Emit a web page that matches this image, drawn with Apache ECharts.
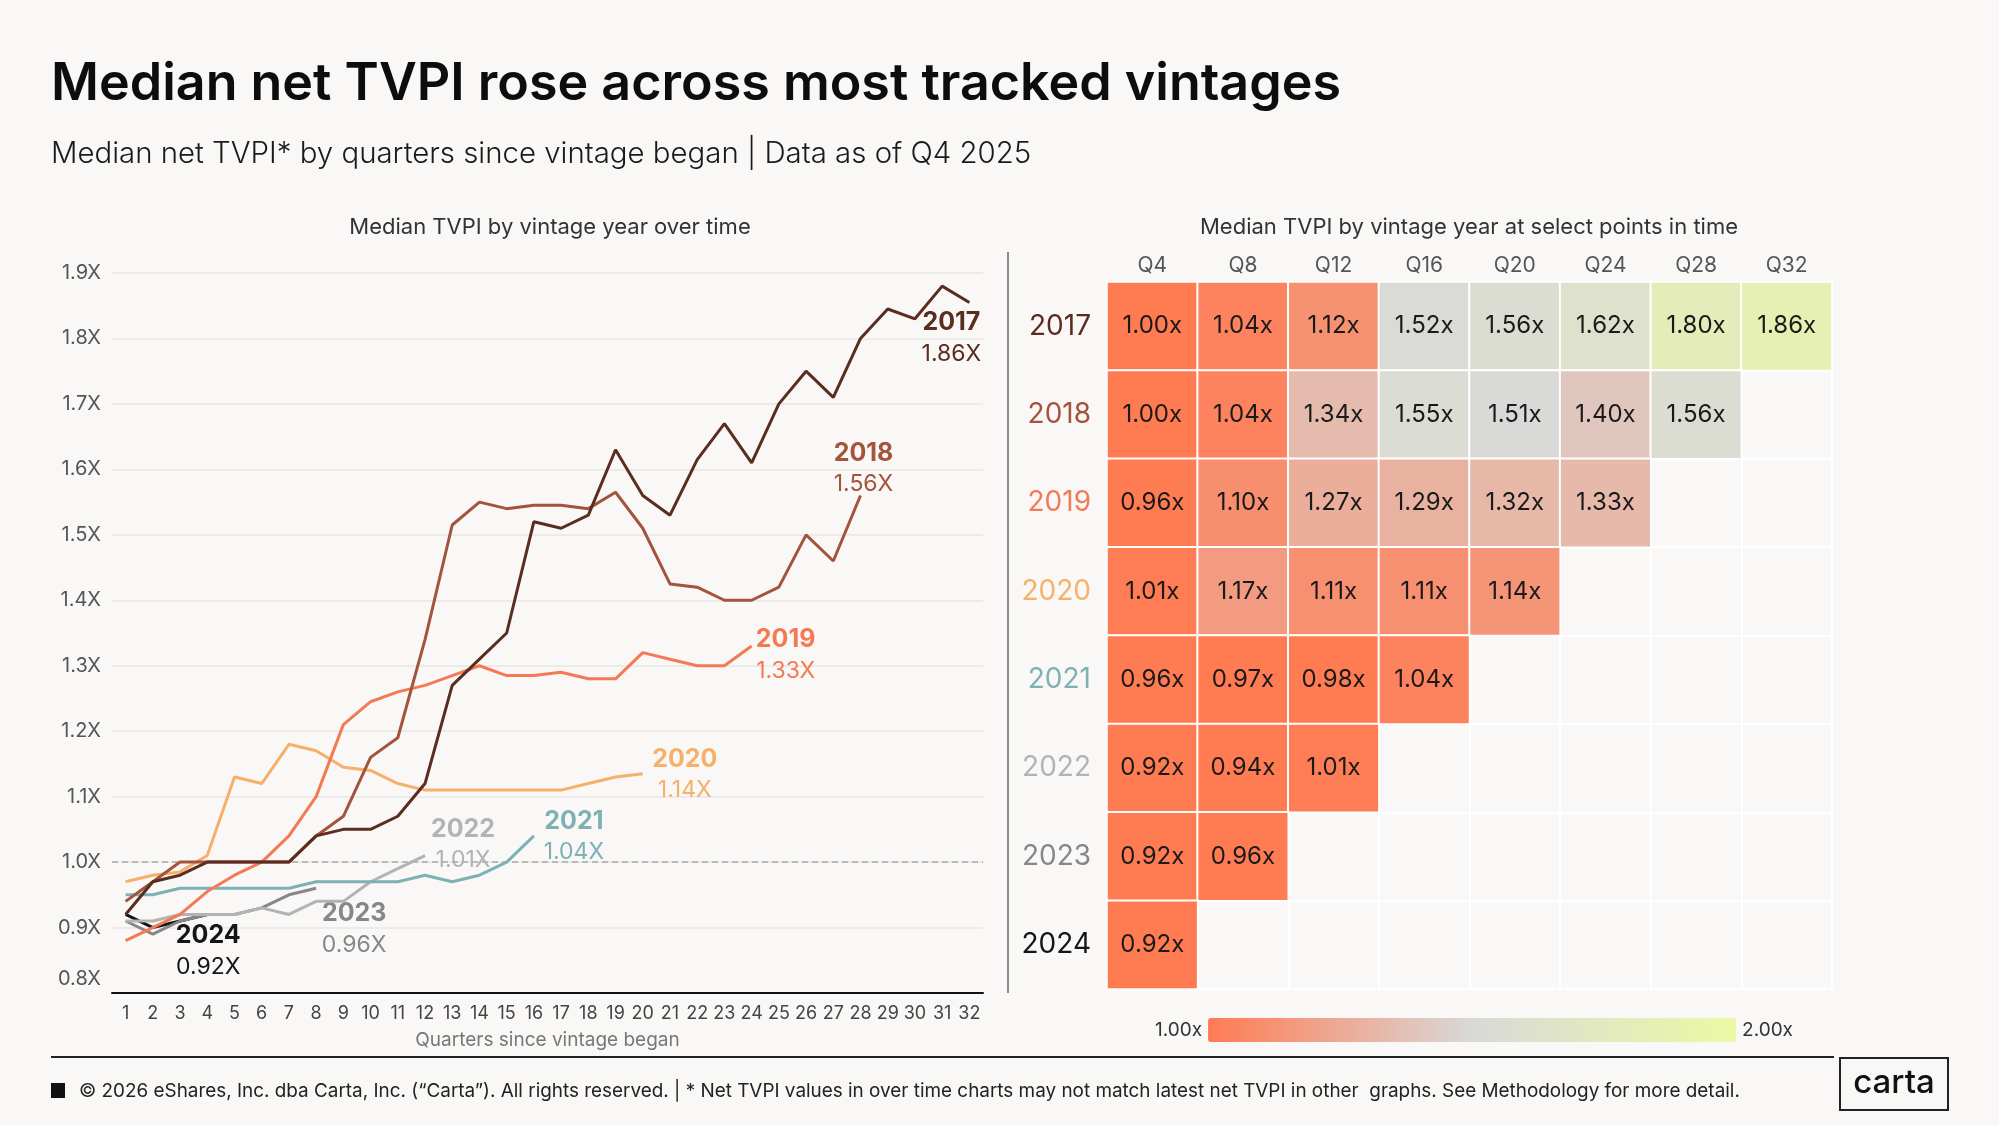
<!DOCTYPE html>
<html>
<head>
<meta charset="utf-8">
<script src="https://cdn.jsdelivr.net/npm/echarts@6/dist/echarts.min.js"></script>
<style>
  html, body { margin: 0; padding: 0; background: #f9f8f6; }
  #chart { width: 1999px; height: 1125px; }
</style>
</head>
<body>
<div id="chart"></div>
<script>
// line chart data: median TVPI by quarter since vintage began
const quarters = Array.from({ length: 32 }, (_, i) => String(i + 1))
const yTicks = [0.8, 0.9, 1.0, 1.1, 1.2, 1.3, 1.4, 1.5, 1.6, 1.7, 1.8, 1.9]

const v2017 = [0.92, 0.97, 0.98, 1.00, 1.00, 1.00, 1.00, 1.04, 1.05, 1.05, 1.07, 1.12, 1.27, 1.31, 1.35, 1.52,
  1.51, 1.53, 1.63, 1.56, 1.53, 1.615, 1.67, 1.61, 1.70, 1.75, 1.71, 1.80, 1.845, 1.83, 1.88, 1.855]
const v2018 = [0.94, 0.97, 1.00, 1.00, 1.00, 1.00, 1.00, 1.04, 1.07, 1.16, 1.19, 1.34, 1.515, 1.55, 1.54, 1.545,
  1.545, 1.54, 1.565, 1.51, 1.425, 1.42, 1.40, 1.40, 1.42, 1.50, 1.46, 1.56]
const v2019 = [0.88, 0.90, 0.92, 0.955, 0.98, 1.00, 1.04, 1.10, 1.21, 1.245, 1.26, 1.27, 1.285, 1.30, 1.285, 1.285,
  1.29, 1.28, 1.28, 1.32, 1.31, 1.30, 1.30, 1.33]
const v2020 = [0.97, 0.98, 0.985, 1.01, 1.13, 1.12, 1.18, 1.17, 1.145, 1.14, 1.12, 1.11, 1.11, 1.11, 1.11, 1.11,
  1.11, 1.12, 1.13, 1.135]
const v2021 = [0.95, 0.95, 0.96, 0.96, 0.96, 0.96, 0.96, 0.97, 0.97, 0.97, 0.97, 0.98, 0.97, 0.98, 1.00, 1.04]
const v2022 = [0.91, 0.91, 0.92, 0.92, 0.92, 0.93, 0.92, 0.94, 0.94, 0.97, 0.99, 1.01]
const v2023 = [0.91, 0.89, 0.91, 0.92, 0.92, 0.93, 0.95, 0.96]
const v2024 = [0.92, 0.90, 0.91, 0.92]

// heatmap data: median TVPI at select quarters
const heatQuarters = ['Q4', 'Q8', 'Q12', 'Q16', 'Q20', 'Q24', 'Q28', 'Q32']
const heatYears = ['2017', '2018', '2019', '2020', '2021', '2022', '2023', '2024']
const hm2017 = [1.00, 1.04, 1.12, 1.52, 1.56, 1.62, 1.80, 1.86]
const hm2018 = [1.00, 1.04, 1.34, 1.55, 1.51, 1.40, 1.56]
const hm2019 = [0.96, 1.10, 1.27, 1.29, 1.32, 1.33]
const hm2020 = [1.01, 1.17, 1.11, 1.11, 1.14]
const hm2021 = [0.96, 0.97, 0.98, 1.04]
const hm2022 = [0.92, 0.94, 1.01]
const hm2023 = [0.92, 0.96]
const hm2024 = [0.92]

// styling
const FONT = 'Inter'
const lineColors = {
  '2017': '#5b2c20', '2018': '#a4533d', '2019': '#f47a55', '2020': '#f6b06a',
  '2021': '#7eb1b4', '2022': '#b3b3b3', '2023': '#878787', '2024': '#151515'
}
// end label offsets relative to last point (px)
const labelOffsets = {
  '2017': [-18, 36], '2018': [3, -27], '2019': [34, 9], '2020': [42, 1],
  '2021': [40, 1], '2022': [38, -11], '2023': [38, 41], '2024': [1, 37]
}

const lineSets = [
  ['2024', v2024, hm2024], ['2023', v2023, hm2023], ['2022', v2022, hm2022], ['2021', v2021, hm2021],
  ['2020', v2020, hm2020], ['2019', v2019, hm2019], ['2018', v2018, hm2018], ['2017', v2017, hm2017]
]
const heatRows = [hm2017, hm2018, hm2019, hm2020, hm2021, hm2022, hm2023, hm2024]

const lineSeries = lineSets.map(([year, vals, hm], k) => {
  const last = vals.length - 1
  // latest reported value (same as the last heatmap cell)
  const latest = hm[hm.length - 1]
  const s = {
    name: year,
    type: 'line',
    xAxisIndex: 0,
    yAxisIndex: 0,
    data: vals,
    showSymbol: false,
    symbol: 'none',
    lineStyle: { color: lineColors[year], width: 3 },
    itemStyle: { color: lineColors[year] },
    z: 3 + k,
    silent: true,
    markPoint: {
      symbol: 'circle',
      symbolSize: 1,
      itemStyle: { color: 'rgba(0,0,0,0)' },
      data: [{ coord: [last, vals[last]] }],
      label: {
        show: true,
        position: 'inside',
        offset: labelOffsets[year],
        align: 'center',
        verticalAlign: 'middle',
        formatter: () => '{y|' + year + '}\n{v|' + latest.toFixed(2) + 'X}',
        rich: {
          y: { fontFamily: FONT, fontSize: 25, fontWeight: 700, color: lineColors[year], lineHeight: 31, align: 'center' },
          v: { fontFamily: FONT, fontSize: 23, fontWeight: 400, color: lineColors[year], lineHeight: 31, align: 'center' }
        }
      }
    }
  }
  if (year === '2017') {
    s.markLine = {
      silent: true,
      symbol: 'none',
      label: { show: false },
      lineStyle: { color: '#aaaaaa', type: [6, 4], width: 1.5 },
      data: [{ yAxis: 1.0 }]
    }
  }
  return s
})

const heatData = []
heatRows.forEach((row, yi) => {
  row.forEach((v, xi) => {
    heatData.push([xi, yi, Math.min(2, Math.max(1, v)), v])
  })
})

const chart = echarts.init(document.getElementById('chart'))
const option = {
  backgroundColor: '#f9f8f6',
  animation: false,
  textStyle: { fontFamily: FONT },
  grid: [
    { left: 112, right: 1016, top: 273, bottom: 132 },
    { left: 1107, right: 167, top: 282, bottom: 136 }
  ],
  xAxis: [
    {
      type: 'category',
      gridIndex: 0,
      data: quarters,
      axisLine: { lineStyle: { color: '#111', width: 2 } },
      axisTick: { show: false },
      axisLabel: { color: '#444', fontSize: 18, margin: 12, interval: 0, fontFamily: FONT },
      name: 'Quarters since vintage began',
      nameLocation: 'middle',
      nameGap: 38,
      nameTextStyle: { color: '#777', fontSize: 19, fontFamily: FONT }
    },
    {
      type: 'category',
      gridIndex: 1,
      position: 'top',
      data: heatQuarters,
      axisLine: { show: false },
      axisTick: { show: false },
      axisLabel: { color: '#555', fontSize: 21, margin: 6, fontFamily: FONT },
      splitLine: { show: true, lineStyle: { color: '#ffffff', width: 2 } }
    }
  ],
  yAxis: [
    {
      type: 'value',
      gridIndex: 0,
      min: yTicks[0],
      max: yTicks[yTicks.length - 1],
      interval: 0.1,
      axisLine: { show: false },
      axisTick: { show: false },
      axisLabel: {
        color: '#555', fontSize: 20, margin: 11, fontFamily: FONT,
        formatter: v => (Math.abs(v - yTicks[0]) < 1e-9 ? '{lo|' + v.toFixed(1) + 'X}' : v.toFixed(1) + 'X'),
        rich: { lo: { color: '#555', fontSize: 20, fontFamily: FONT, padding: [0, 0, 28, 0] } }
      },
      splitLine: { lineStyle: { color: '#e8e7e4', width: 1.5 } }
    },
    {
      type: 'category',
      gridIndex: 1,
      inverse: true,
      data: heatYears.map(y => ({ value: y, textStyle: { color: lineColors[y] } })),
      axisLine: { show: false },
      axisTick: { show: false },
      axisLabel: { fontSize: 28, margin: 16, fontFamily: FONT },
      splitLine: { show: true, lineStyle: { color: '#ffffff', width: 2 } }
    }
  ],
  visualMap: {
    type: 'continuous',
    seriesIndex: lineSeries.length,
    dimension: 2,
    min: 1,
    max: 2,
    calculable: false,
    orient: 'horizontal',
    left: 1140,
    top: 1003,
    itemWidth: 24,
    itemHeight: 528,
    text: ['2.00x', '1.00x'],
    textGap: 6,
    textStyle: { color: '#333', fontSize: 19, fontFamily: FONT },
    inRange: { color: ['#ff7b52', '#d9d9d9', '#ecf9a4'] }
  },
  series: [
    ...lineSeries,
    {
      type: 'heatmap',
      xAxisIndex: 1,
      yAxisIndex: 1,
      data: heatData,
      itemStyle: { borderColor: '#ffffff', borderWidth: 2 },
      label: {
        show: true,
        fontFamily: FONT,
        fontSize: 24,
        color: '#1a1a1a',
        formatter: p => p.data[3].toFixed(2) + 'x'
      },
      silent: true
    }
  ],
  graphic: [
    {
      type: 'text', x: 51, y: 84,
      style: {
        text: 'Median net TVPI rose across most tracked vintages',
        fontFamily: FONT, fontSize: 52, fontWeight: 600, fill: '#0d0d0d',
        align: 'left', verticalAlign: 'middle', textAlign: 'left', textVerticalAlign: 'middle'
      }
    },
    {
      type: 'text', x: 51, y: 154,
      style: {
        text: 'Median net TVPI* by quarters since vintage began | Data as of Q4 2025',
        fontFamily: FONT, fontSize: 29.4, fontWeight: 300, fill: '#1a1a1a',
        align: 'left', verticalAlign: 'middle', textAlign: 'left', textVerticalAlign: 'middle'
      }
    },
    {
      type: 'text', x: 550, y: 227,
      style: {
        text: 'Median TVPI by vintage year over time',
        fontFamily: FONT, fontSize: 22, fill: '#333',
        align: 'center', verticalAlign: 'middle', textAlign: 'center', textVerticalAlign: 'middle'
      }
    },
    {
      type: 'text', x: 1469, y: 227,
      style: {
        text: 'Median TVPI by vintage year at select points in time',
        fontFamily: FONT, fontSize: 22, fill: '#333',
        align: 'center', verticalAlign: 'middle', textAlign: 'center', textVerticalAlign: 'middle'
      }
    },
    {
      type: 'line',
      shape: { x1: 1008, y1: 252, x2: 1008, y2: 993 },
      style: { stroke: '#666', lineWidth: 1.5 }
    },
    {
      type: 'line',
      shape: { x1: 51, y1: 1057, x2: 1834, y2: 1057 },
      style: { stroke: '#222', lineWidth: 2 }
    },
    {
      type: 'rect',
      shape: { x: 51, y: 1083, width: 14, height: 15 },
      style: { fill: '#111' }
    },
    {
      type: 'text', x: 79, y: 1091,
      style: {
        text: '\u00a9 2026 eShares, Inc. dba Carta, Inc. (\u201cCarta\u201d). All rights reserved. | * Net TVPI values in over time charts may not match latest net TVPI in other  graphs. See Methodology for more detail.',
        fontFamily: FONT, fontSize: 18.9, fill: '#222',
        align: 'left', verticalAlign: 'middle', textAlign: 'left', textVerticalAlign: 'middle'
      }
    },
    {
      type: 'rect',
      shape: { x: 1840, y: 1058, width: 108, height: 52 },
      style: { fill: 'none', stroke: '#222', lineWidth: 2 }
    },
    {
      type: 'text', x: 1894, y: 1083,
      style: {
        text: 'carta',
        fontFamily: FONT, fontSize: 33, fontWeight: 500, fill: '#111',
        align: 'center', verticalAlign: 'middle', textAlign: 'center', textVerticalAlign: 'middle'
      }
    }
  ]
}
chart.setOption(option)
</script>
</body>
</html>
